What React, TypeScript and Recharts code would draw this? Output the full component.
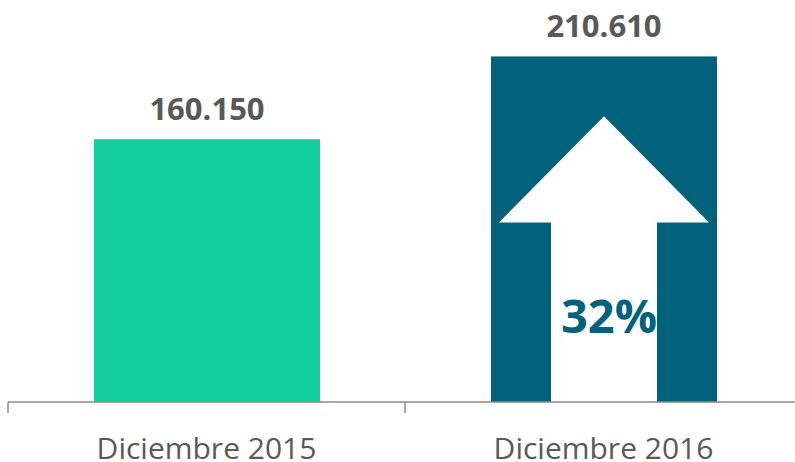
import React from "react";
import { BarChart, Bar, XAxis, YAxis, Cell, LabelList } from "recharts";

const categories = ["Diciembre 2015", "Diciembre 2016"];
const values = [160150, 210610];
const barColors = ["#12CF9B", "#03627B"];
const growthLabels = ["", "32%"];

const data = categories.map((name, i) => ({
  name,
  value: values[i],
  growth: growthLabels[i],
}));

const fmt = (v: number) => String(Math.round(v)).replace(/\B(?=(\d{3})+(?!\d))/g, ".");

const FONT = "'Open Sans', 'Noto Sans', sans-serif";
const AXIS_COLOR = "#8A8A8A";
const TEXT_COLOR = "#595959";

const BarShape = (props: any) => {
  const { x, y, width, height, fill, index } = props;
  const g = data[index]?.growth;
  const w = width;
  const cx = x + w / 2;
  const tipY = y + 0.265 * w;
  const baseY = y + 0.735 * w;
  const inset = 0.035 * w;
  const shaftHalf = 0.2345 * w;
  const bottom = y + height;
  return (
    <g>
      <rect x={x} y={y} width={width} height={height} fill={fill} />
      {g ? (
        <>
          <polygon
            fill="#FFFFFF"
            points={[
              [cx, tipY],
              [x + w - inset, baseY],
              [cx + shaftHalf, baseY],
              [cx + shaftHalf, bottom],
              [cx - shaftHalf, bottom],
              [cx - shaftHalf, baseY],
              [x + inset, baseY],
            ]
              .map((p) => p.join(","))
              .join(" ")}
          />
          <text
            x={cx + 5}
            y={bottom - 69}
            textAnchor="middle"
            fontFamily={FONT}
            fontWeight={700}
            fontSize={47}
            fill={fill}
          >
            {g}
          </text>
        </>
      ) : null}
    </g>
  );
};

const ValueLabel = (props: any) => {
  const { x, y, width, value } = props;
  return (
    <text
      x={x + width / 2}
      y={y - 19}
      textAnchor="middle"
      fontFamily={FONT}
      fontWeight={700}
      fontSize={31}
      fill={TEXT_COLOR}
    >
      {fmt(value)}
    </text>
  );
};

const CategoryTick = (props: any) => {
  const { x, y, payload } = props;
  const half = payload?.offset ?? 198.5;
  const axisY = 402;
  return (
    <g>
      <line x1={x - half} x2={x - half} y1={axisY} y2={axisY + 11} stroke={AXIS_COLOR} strokeWidth={1.5} />
      <text
        x={x}
        y={459}
        textAnchor="middle"
        fontFamily={FONT}
        fontSize={30}
        fill={TEXT_COLOR}
      >
        {payload.value}
      </text>
    </g>
  );
};

export default function App() {
  return (
    <div
      style={{
        position: "absolute",
        left: 0,
        top: 0,
        width: 795,
        height: 462,
        overflow: "hidden",
        background: "#FFFFFF",
      }}
    >
      <BarChart
        width={802}
        height={462}
        data={data}
        margin={{ top: 0, right: 0, left: 8, bottom: 0 }}
      >
        <XAxis
          dataKey="name"
          interval={0}
          height={60}
          tickLine={false}
          axisLine={{ stroke: AXIS_COLOR, strokeWidth: 1.5 }}
          tick={<CategoryTick />}
        />
        <YAxis hide domain={[0, 245000]} />
        <Bar dataKey="value" barSize={226} isAnimationActive={false} shape={<BarShape />}>
          {data.map((d, i) => (
            <Cell key={d.name} fill={barColors[i]} />
          ))}
          <LabelList dataKey="value" content={<ValueLabel />} />
        </Bar>
      </BarChart>
    </div>
  );
}
